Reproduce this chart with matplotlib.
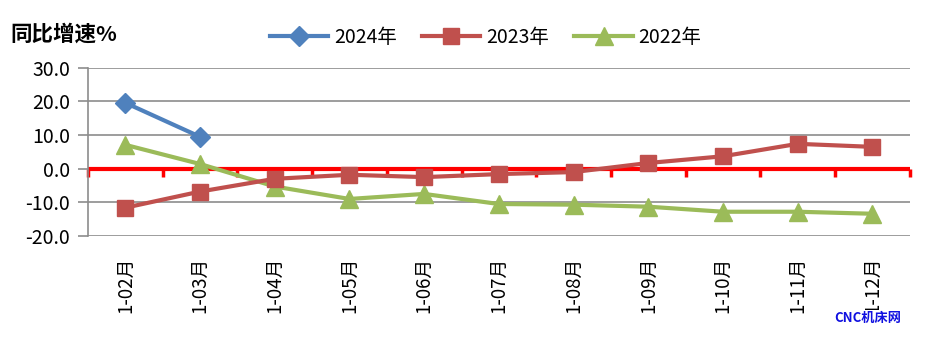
import matplotlib.pyplot as plt
import numpy as np

plt.rcParams['font.family'] = ['Noto Sans CJK SC', 'DejaVu Sans']

months = ['1-02月', '1-03月', '1-04月', '1-05月', '1-06月', '1-07月',
          '1-08月', '1-09月', '1-10月', '1-11月', '1-12月']
g2024 = [19.6, 9.5]
g2023 = [-11.6, -6.8, -3.0, -1.8, -2.5, -1.6, -1.0, 1.7, 3.7, 7.4, 6.5]
g2022 = [7.1, 1.4, -5.3, -9.0, -7.5, -10.5, -10.7, -11.3, -12.8, -12.8, -13.4]

C_BLUE = '#4F81BD'
C_RED = '#C0504D'
C_GREEN = '#9BBB59'
GRID = '#8C8C8C'

fig = plt.figure(figsize=(9.36, 3.48), dpi=100)
ax = fig.add_axes([0.094, 0.322, 0.878, 0.483])

x = np.arange(len(months))
ax.plot(x[:len(g2024)], g2024, color=C_BLUE, lw=3, marker='D', ms=10,
        label='2024年', zorder=5)
ax.plot(x, g2023, color=C_RED, lw=3, marker='s', ms=11.5,
        label='2023年', zorder=4)
ax.plot(x, g2022, color=C_GREEN, lw=3, marker='^', ms=12.5,
        label='2022年', zorder=3)

ax.set_xlim(-0.5, len(months) - 0.5)
ax.set_ylim(-20, 30)
yt = np.arange(-20, 31, 10)
ax.set_yticks(yt)
ax.set_yticklabels([f'{v:.1f}' for v in yt], fontsize=14)
ax.yaxis.grid(True, color=GRID, lw=1.2)
ax.set_axisbelow(True)

for s in ['top', 'right', 'bottom']:
    ax.spines[s].set_visible(False)
ax.spines['left'].set_color(GRID)
ax.spines['left'].set_linewidth(1.2)
ax.tick_params(axis='y', length=7, width=1.2, color=GRID, pad=6)

ax.set_xticks(x)
ax.set_xticklabels(months, rotation=90, fontsize=13.5)
ax.tick_params(axis='x', length=0, pad=15)

# red zero axis with category boundary ticks
ax.axhline(0, color='red', lw=3, zorder=2)
zero = ax.secondary_xaxis(20 / 50)
zero.spines['bottom'].set_visible(False)
zero.set_xticks(np.arange(-0.5, len(months), 1.0))
zero.set_xticklabels([])
zero.tick_params(axis='x', length=6, width=2.5, color='red', direction='out')

fig.text(0.011, 0.903, '同比增速%', fontsize=15.5, fontweight='bold',
         ha='left', va='center')

ax.legend(loc='center', bbox_to_anchor=(0.484, 1.18), ncol=3, frameon=False,
          fontsize=14, handlelength=3.0, columnspacing=1.3, handletextpad=0.3)

fig.text(0.927, 0.086, 'CNC机床网', fontsize=9.5, fontweight='bold',
         color='#1010E0', ha='center', va='center',
         bbox=dict(facecolor='white', edgecolor='none', pad=1))

fig.savefig('out.png', dpi=100)
